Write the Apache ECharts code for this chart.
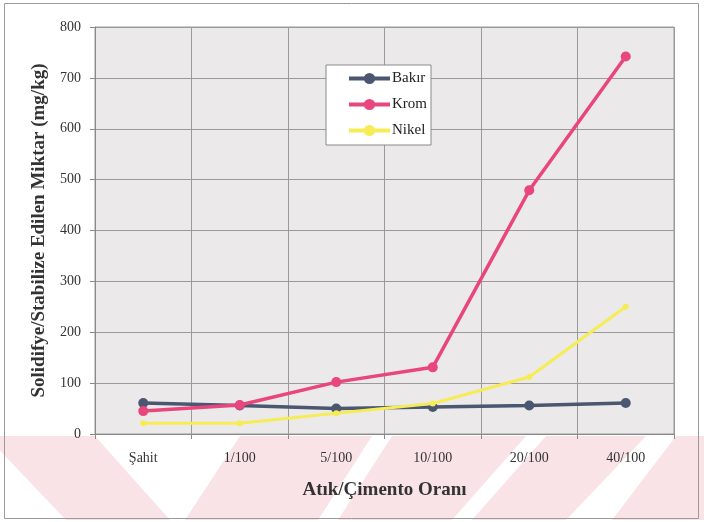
<!DOCTYPE html>
<html>
<head>
<meta charset="utf-8">
<script src="https://cdn.jsdelivr.net/npm/echarts@6/dist/echarts.min.js"></script>
<style>
  html, body { margin: 0; padding: 0; background: #ffffff; }
  #chart { width: 704px; height: 522px; }
</style>
</head>
<body>
<div id="chart"></div>
<script>
// Waste/cement ratios on the x axis
var categories = ['Şahit', '1/100', '5/100', '10/100', '20/100', '40/100'];

// Solidified/stabilised amounts (mg/kg) per metal
var bakir = [61, 56, 50, 53, 56, 61];
var krom  = [45, 57, 102, 131, 479, 742];
var nikel = [21, 21, 41, 60, 112, 250];

var yTicks = { min: 0, max: 800, step: 100 };

var serif = '"Liberation Serif", "Times New Roman", serif';
var pink = '#f9e3e7';

// Diagonal pink band decoration along the bottom strip
var bands = [
  [[-14, 436], [95, 436], [170, 520], [66, 520]],
  [[240, 436], [372, 436], [318, 520], [185, 520]],
  [[392, 436], [526, 436], [452, 520], [338, 520]],
  [[546, 436], [646, 436], [566, 520], [472, 520]],
  [[676, 436], [710, 436], [710, 520], [612, 520]]
];

var graphics = bands.map(function (pts) {
  return {
    type: 'polygon',
    silent: true,
    z: -10,
    shape: { points: pts },
    style: { fill: pink }
  };
});
graphics.push({
  type: 'rect',
  silent: true,
  z: 50,
  shape: { x: 4.5, y: 3.5, width: 694, height: 515 },
  style: { fill: 'none', stroke: '#9a9a9a', lineWidth: 1 }
});

var chart = echarts.init(document.getElementById('chart'), null, { renderer: 'canvas' });

chart.setOption({
  animation: false,
  backgroundColor: '#ffffff',
  graphic: graphics,
  grid: {
    left: 95, right: 30, top: 27, bottom: 88,
    show: true,
    backgroundColor: '#ece9eb',
    borderColor: '#9a9a9a',
    borderWidth: 1
  },
  legend: {
    left: 326, top: 65,
    orient: 'vertical',
    backgroundColor: '#ffffff',
    borderColor: '#8a8a8a',
    borderWidth: 1,
    padding: [6, 4, 7, 21],
    itemWidth: 41,
    itemHeight: 14,
    itemGap: 11,
    lineStyle: { width: 4 },
    textStyle: { fontFamily: serif, fontSize: 15, color: '#222', padding: [0, 0, 0, -3] },
    data: ['Bakır', 'Krom', 'Nikel']
  },
  xAxis: {
    type: 'category',
    data: categories,
    boundaryGap: true,
    name: 'Atık/Çimento Oranı',
    nameLocation: 'middle',
    nameGap: 47,
    nameTextStyle: { fontFamily: serif, fontSize: 19, fontWeight: 'bold', color: '#333' },
    axisLine: { lineStyle: { color: '#8a8a8a', width: 1 } },
    axisTick: { show: true, length: 5, lineStyle: { color: '#8a8a8a' } },
    axisLabel: { fontFamily: serif, fontSize: 14, color: '#333', margin: 17 },
    splitLine: { show: true, lineStyle: { color: '#9a9a9a', width: 1 } }
  },
  yAxis: {
    type: 'value',
    min: yTicks.min,
    max: yTicks.max,
    interval: yTicks.step,
    name: 'Solidifye/Stabilize Edilen Miktar (mg/kg)',
    nameLocation: 'middle',
    nameRotate: 90,
    nameGap: 46,
    nameTextStyle: { fontFamily: serif, fontSize: 19, fontWeight: 'bold', color: '#333' },
    axisLine: { show: true, lineStyle: { color: '#8a8a8a', width: 1 } },
    axisTick: { show: true, length: 5, lineStyle: { color: '#8a8a8a' } },
    axisLabel: { fontFamily: serif, fontSize: 14, color: '#333', margin: 14 },
    splitLine: { show: true, lineStyle: { color: '#9a9a9a', width: 1 } }
  },
  series: [
    {
      name: 'Bakır',
      type: 'line',
      data: bakir,
      color: '#4b5670',
      symbol: 'circle',
      symbolSize: 10,
      lineStyle: { width: 3.5 },
      z: 3
    },
    {
      name: 'Krom',
      type: 'line',
      data: krom,
      color: '#e9467d',
      symbol: 'circle',
      symbolSize: 10,
      lineStyle: { width: 3.5 },
      z: 4
    },
    {
      name: 'Nikel',
      type: 'line',
      data: nikel,
      color: '#f6ec55',
      symbol: 'circle',
      symbolSize: 6,
      lineStyle: { width: 3 },
      z: 5
    }
  ]
});
</script>
</body>
</html>
